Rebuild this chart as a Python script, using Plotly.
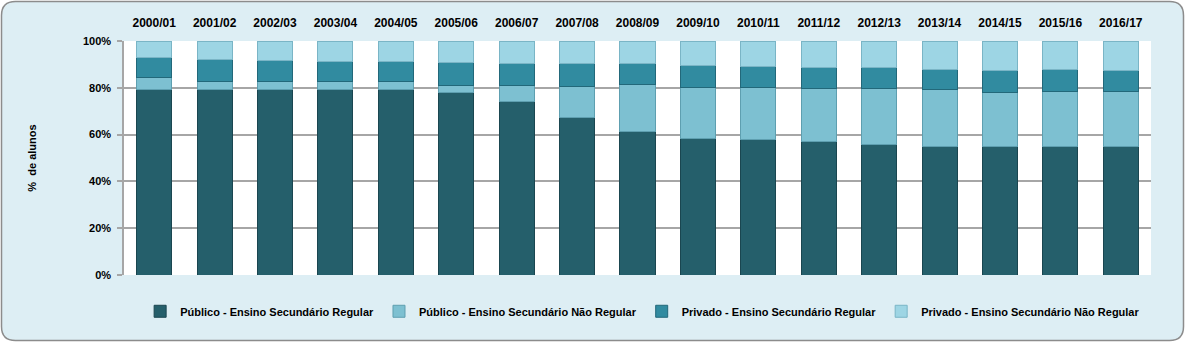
import plotly.graph_objects as go

anos = ["2000/01", "2001/02", "2002/03", "2003/04", "2004/05", "2005/06", "2006/07",
        "2007/08", "2008/09", "2009/10", "2010/11", "2011/12", "2012/13", "2013/14",
        "2014/15", "2015/16", "2016/17"]

publico_regular = [79.1, 79.1, 79.3, 79.4, 79.4, 78.1, 74.1, 67.2, 61.5, 58.4, 58.1, 57.0, 55.8, 55.1, 54.8, 54.8, 54.8]
publico_nao_regular = [5.2, 3.8, 3.3, 3.2, 3.2, 2.8, 6.8, 13.3, 19.7, 21.8, 22.1, 22.5, 23.7, 24.0, 23.4, 23.5, 23.8]
privado_regular = [8.6, 9.0, 8.9, 8.6, 8.6, 10.0, 9.6, 10.0, 9.3, 9.3, 9.1, 9.1, 9.1, 8.9, 9.3, 9.6, 9.0]
privado_nao_regular = [7.1, 8.1, 8.5, 8.8, 8.8, 9.1, 9.5, 9.5, 9.5, 10.5, 10.7, 11.4, 11.4, 12.0, 12.5, 12.1, 12.4]

series = [
    ("Público - Ensino Secundário Regular", publico_regular, "#255f6b", "#1a4650"),
    ("Público - Ensino Secundário Não Regular", publico_nao_regular, "#7dc0d1", "#5e9fb0"),
    ("Privado - Ensino Secundário Regular", privado_regular, "#318ba0", "#22687a"),
    ("Privado - Ensino Secundário Não Regular", privado_nao_regular, "#9dd5e4", "#7ab5c6"),
]

W, H = 1186, 343
L, R, T, B = 124, 1151, 41, 275

fig = go.Figure()
for name, vals, col, edge in series:
    fig.add_trace(go.Bar(
        x=anos, y=vals, name=name,
        marker=dict(color=col, line=dict(color=edge, width=1)),
        hovertemplate="%{x}: %{y:.1f}%<extra>" + name + "</extra>",
    ))

def px(x):
    return (x - L) / (R - L)

def py(y):
    return (B - y) / (B - T)

# rounded background
x0, x1, y0, y1, r = 1.5, W - 2.5, 1.5, H - 2.5, 14
path = (f"M {px(x0 + r)} {py(y0)} L {px(x1 - r)} {py(y0)} Q {px(x1)} {py(y0)} {px(x1)} {py(y0 + r)} "
        f"L {px(x1)} {py(y1 - r)} Q {px(x1)} {py(y1)} {px(x1 - r)} {py(y1)} "
        f"L {px(x0 + r)} {py(y1)} Q {px(x0)} {py(y1)} {px(x0)} {py(y1 - r)} "
        f"L {px(x0)} {py(y0 + r)} Q {px(x0)} {py(y0)} {px(x0 + r)} {py(y0)} Z")

fig.add_shape(type="path", path=path, xref="paper", yref="paper", layer="below",
              fillcolor="#ddeef4", line=dict(color="#8c8c8c", width=1.5))
fig.add_shape(type="rect", x0=0, x1=1, y0=0, y1=1, xref="paper", yref="paper",
              layer="below", fillcolor="white", line=dict(width=0))

FAM = "Liberation Sans, Arial, sans-serif"
bold11 = dict(family=FAM, size=11, color="black", weight="bold")
bold12 = dict(family=FAM, size=12, color="black", weight="bold")

fig.update_layout(
    width=W, height=H,
    margin=dict(l=L, r=W - R, t=T, b=H - B),
    barmode="stack",
    bargap=0.42,
    paper_bgcolor="white",
    plot_bgcolor="white",
    font=dict(family=FAM, size=11, color="black"),
    showlegend=True,
    legend=dict(orientation="h", x=0.505, xanchor="center", y=-0.155, yanchor="middle",
                font=bold11, bgcolor="rgba(0,0,0,0)", traceorder="normal", itemwidth=30),
    xaxis=dict(side="top", showline=False, showgrid=False, ticks="",
               ticklabelstandoff=11, tickfont=bold12, fixedrange=True),
    yaxis=dict(range=[0, 100], tickvals=[0, 20, 40, 60, 80, 100],
               ticktext=["0%", "20%", "40%", "60%", "80%", "100%"],
               showgrid=True, gridcolor="#a6a6a6", gridwidth=1.5,
               showline=True, linecolor="#a6a6a6", linewidth=1.5,
               ticks="outside", ticklen=5, tickcolor="#a6a6a6", tickwidth=1.5,
               ticklabelstandoff=4,
               zeroline=False, tickfont=bold11,
               title=dict(text="%  de alunos", standoff=44, font=bold11),
               fixedrange=True),
)

fig.write_html("out.html")
